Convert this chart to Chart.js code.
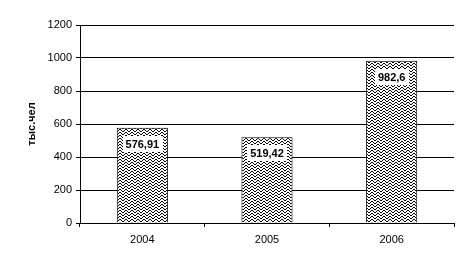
<!DOCTYPE html>
<html>
<head>
<meta charset="utf-8">
<script src="https://cdn.jsdelivr.net/npm/chart.js@4"></script>
<style>
  html, body { margin: 0; padding: 0; background: #fff; }
</style>
</head>
<body>
<canvas id="chart" width="469" height="265"></canvas>
<script>
// data
var years = ["2004", "2005", "2006"];
var values = [576.91, 519.42, 982.6];
var valueLabels = ["576,91", "519,42", "982,6"];

// zigzag fill like the excel pattern
function zigzag() {
    var c = document.createElement("canvas");
    c.width = 6; c.height = 3;
    var g = c.getContext("2d");
    g.fillStyle = "#fff";
    g.fillRect(0, 0, 6, 3);
    g.fillStyle = "#000";
    for (var x = 0; x < 6; x++) {
        var t = x < 3 ? x : 5 - x;
        g.fillRect(x, t, 1, 1);
    }
    return g.createPattern(c, "repeat");
}

var labelBoxes = {
    id: "labelBoxes",
    afterDatasetsDraw: function(chart) {
        var ctx = chart.ctx;
        var meta = chart.getDatasetMeta(0);
        ctx.save();
        ctx.font = "bold 11px 'Liberation Sans', Arial, sans-serif";
        ctx.textAlign = "center";
        ctx.textBaseline = "middle";
        meta.data.forEach(function(bar, i) {
            var txt = valueLabels[i];
            var w = ctx.measureText(txt).width + 6;
            var y = bar.y + 16;
            ctx.fillStyle = "#fff";
            ctx.fillRect(Math.round(bar.x - w / 2), Math.round(y - 8), Math.round(w), 16);
            ctx.fillStyle = "#000";
            ctx.fillText(txt, bar.x, y + 1);
        });
        ctx.restore();
    }
};

var ctx = document.getElementById("chart").getContext("2d");
var chart = new Chart(ctx, {
    type: "bar",
    data: {
        labels: years,
        datasets: [{
            data: values,
            backgroundColor: zigzag(),
            borderColor: "#000",
            borderWidth: 1,
            barPercentage: 0.41,
            categoryPercentage: 1
        }]
    },
    options: {
        responsive: false,
        animation: false,
        events: [],
        layout: { padding: { left: 0, right: 15, top: 25, bottom: 0 } },
        plugins: { legend: { display: false }, tooltip: { enabled: false } },
        scales: {
            x: {
                offset: true,
                grid: { offset: true, drawOnChartArea: false, color: "#000", tickLength: 4, tickColor: "#000" },
                border: { color: "#000", width: 1 },
                ticks: { color: "#000", font: { family: "'Liberation Sans', Arial", size: 11 }, padding: 6 },
                afterFit: function(s) { s.height = 42; }
            },
            y: {
                min: 0, max: 1200,
                ticks: {
                    stepSize: 200, color: "#000", padding: 4,
                    font: { family: "'Liberation Sans', Arial", size: 11 },
                    callback: function(v) { return String(v); }
                },
                grid: { color: "#000", tickLength: 4, tickColor: "#000" },
                border: { color: "#000", width: 1 },
                title: { display: true, text: "тыс.чел", color: "#000", font: { family: "'Liberation Sans', Arial", size: 11, weight: "bold" }, padding: { top: 25, bottom: 0 } },
                afterFit: function(s) { s.width = 80; }
            }
        }
    },
    plugins: [labelBoxes]
});
</script>
</body>
</html>
